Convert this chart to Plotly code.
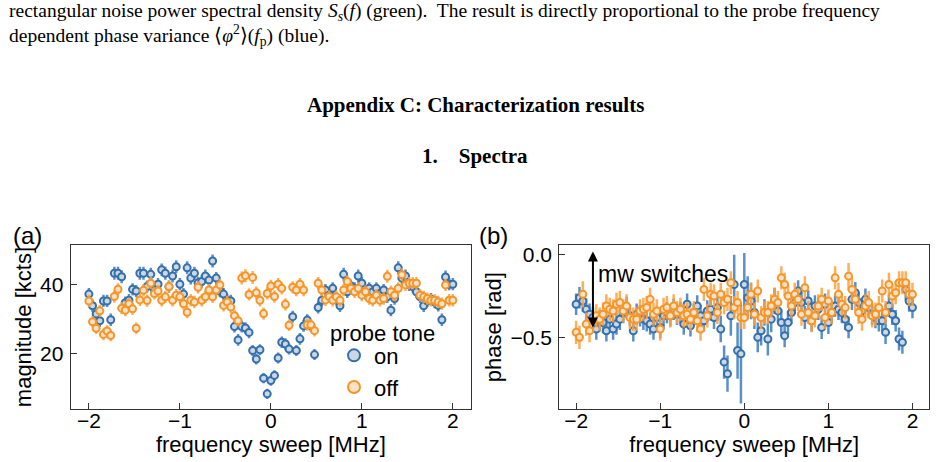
import plotly.graph_objects as go

# ---------------- data ----------------
freq = [round(-2 + 0.04 * i, 2) for i in range(101)]

mag_on = [37.3, 33.9, 31.5, 29.5, 35.3, 35.3, 29.8, 43.4, 43.4, 42.4,
          34.8, 35.5, 38.7, 38.2, 43.4, 43.4, 39.5, 43.1, 38.5, 40.2,
          44.4, 43.4, 39.5, 42.6, 45.3, 40.2, 37.3, 45.0, 42.0, 43.4,
          40.6, 41.0, 42.6, 41.4, 47.0, 42.0, 38.2, 37.3, 35.5, 35.3,
          27.8, 23.9, 27.8, 27.4, 26.1, 20.8, 18.3, 21.0, 12.7, 8.1,
          12.0, 13.5, 18.6, 23.2, 22.7, 21.2, 30.7, 20.8, 24.2, 28.0,
          29.7, 28.0, 19.6, 33.4, 35.5, 38.5, 37.0, 39.0, 36.0, 33.9,
          43.1, 38.0, 39.7, 39.0, 42.6, 40.5, 37.5, 39.0, 38.0, 39.0,
          37.5, 38.5, 36.5, 32.6, 36.0, 45.0, 42.0, 42.6, 40.0, 39.5,
          38.0, 36.5, 33.9, 35.3, 35.8, 35.0, 34.0, 29.8, 42.3, 40.2,
          40.2]
mag_off = [35.3, 29.2, 27.3, 32.4, 25.5, 26.5, 25.2, 36.6, 38.7, 33.2,
           32.6, 34.5, 33.0, 27.3, 35.6, 38.4, 35.4, 40.5, 37.5, 38.2,
           35.5, 36.5, 39.5, 35.5, 37.0, 36.5, 34.5, 32.0, 35.5, 35.0,
           39.3, 35.5, 36.5, 38.5, 36.5, 38.5, 40.0, 34.0, 35.0, 33.5,
           31.0, 29.5, 42.0, 42.7, 37.2, 42.2, 37.7, 35.5, 31.6, 37.5,
           39.7, 36.6, 40.2, 39.0, 34.3, 28.2, 39.3, 38.5, 40.2, 38.5,
           28.3, 28.3, 26.6, 40.5, 38.5, 35.6, 36.6, 35.5, 36.5, 35.5,
           38.5, 41.0, 39.0, 38.0, 39.0, 37.0, 38.0, 36.0, 35.5, 37.0,
           35.5, 36.0, 42.5, 38.0, 37.0, 39.0, 43.0, 40.0, 40.5, 40.5,
           40.5, 37.0, 36.5, 36.0, 35.5, 35.5, 35.0, 34.5, 40.0, 35.5,
           35.5]
mag_on_err = [1.8, 1.8, 1.8, 1.8, 1.8, 1.8, 1.8, 1.9, 1.9, 1.9,
              1.8, 1.8, 1.8, 1.8, 1.9, 1.9, 1.8, 1.9, 1.8, 1.8,
              1.9, 1.9, 1.8, 1.9, 1.9, 1.8, 1.8, 1.9, 1.9, 1.9,
              1.8, 1.8, 1.9, 1.8, 1.9, 1.8, 1.8, 1.8, 1.8, 1.8,
              1.7, 1.7, 1.7, 1.7, 1.7, 1.6, 1.6, 1.6, 1.5, 1.5,
              1.5, 1.5, 1.6, 1.7, 1.7, 1.6, 1.7, 1.6, 1.7, 1.7,
              1.7, 1.7, 1.6, 1.8, 1.8, 1.8, 1.8, 1.8, 1.8, 1.8,
              1.9, 1.8, 1.8, 1.8, 1.9, 1.8, 1.8, 1.8, 1.8, 1.8,
              1.8, 1.8, 1.8, 1.8, 1.8, 1.9, 1.9, 1.9, 1.8, 1.8,
              1.8, 1.8, 1.8, 1.8, 1.8, 1.8, 1.8, 1.8, 1.9, 1.8,
              1.8]
mag_off_err = [1.8, 1.7, 1.7, 1.8, 1.7, 1.7, 1.7, 1.8, 1.8, 1.8,
               1.8, 1.8, 1.8, 1.7, 1.8, 1.8, 1.8, 1.8, 1.8, 1.8,
               1.8, 1.8, 1.8, 1.8, 1.8, 1.8, 1.8, 1.8, 1.8, 1.8,
               1.8, 1.8, 1.8, 1.8, 1.8, 1.8, 1.8, 1.8, 1.8, 1.8,
               1.7, 1.7, 1.9, 1.9, 1.8, 1.9, 1.8, 1.8, 1.8, 1.8,
               1.8, 1.8, 1.8, 1.8, 1.8, 1.7, 1.8, 1.8, 1.8, 1.8,
               1.7, 1.7, 1.7, 1.8, 1.8, 1.8, 1.8, 1.8, 1.8, 1.8,
               1.8, 1.8, 1.8, 1.8, 1.8, 1.8, 1.8, 1.8, 1.8, 1.8,
               1.8, 1.8, 1.9, 1.8, 1.8, 1.8, 1.9, 1.8, 1.8, 1.8,
               1.8, 1.8, 1.8, 1.8, 1.8, 1.8, 1.8, 1.8, 1.8, 1.8,
               1.8]

phase_on = [-0.30, -0.26, -0.28, -0.33, -0.36, -0.38, -0.45, -0.40, -0.41, -0.46,
            -0.39, -0.45, -0.42, -0.39, -0.35, -0.32, -0.37, -0.46, -0.36, -0.37,
            -0.39, -0.40, -0.42, -0.45, -0.38, -0.44, -0.37, -0.35, -0.37, -0.33,
            -0.36, -0.35, -0.42, -0.30, -0.43, -0.36, -0.31, -0.37, -0.40, -0.34,
            -0.33, -0.38, -0.32, -0.45, -0.65, -0.72, -0.37, -0.18, -0.58, -0.60,
            -0.18, -0.26, -0.28, -0.35, -0.50, -0.46, -0.35, -0.51, -0.39, -0.28,
            -0.34, -0.41, -0.49, -0.41, -0.35, -0.29, -0.22, -0.29, -0.38, -0.28,
            -0.40, -0.31, -0.33, -0.44, -0.30, -0.41, -0.35, -0.31, -0.33, -0.35,
            -0.39, -0.44, -0.27, -0.23, -0.29, -0.34, -0.27, -0.32, -0.36, -0.38,
            -0.40, -0.40, -0.47, -0.31, -0.36, -0.40, -0.51, -0.53, -0.21, -0.28,
            -0.32]
phase_off = [-0.47, -0.50, -0.24, -0.42, -0.46, -0.40, -0.37, -0.39, -0.36, -0.31,
             -0.33, -0.34, -0.30, -0.29, -0.34, -0.31, -0.38, -0.39, -0.39, -0.34,
             -0.33, -0.32, -0.27, -0.36, -0.34, -0.45, -0.33, -0.32, -0.37, -0.31,
             -0.35, -0.33, -0.37, -0.36, -0.39, -0.35, -0.40, -0.45, -0.21, -0.37,
             -0.24, -0.25, -0.35, -0.24, -0.29, -0.27, -0.17, -0.32, -0.29, -0.38,
             -0.38, -0.32, -0.24, -0.36, -0.22, -0.38, -0.35, -0.35, -0.31, -0.27,
             -0.29, -0.14, -0.18, -0.25, -0.31, -0.24, -0.27, -0.36, -0.20, -0.35,
             -0.40, -0.37, -0.31, -0.27, -0.38, -0.28, -0.35, -0.14, -0.24, -0.30,
             -0.32, -0.13, -0.21, -0.27, -0.35, -0.39, -0.31, -0.29, -0.37, -0.36,
             -0.32, -0.22, -0.35, -0.18, -0.25, -0.23, -0.17, -0.17, -0.17, -0.24,
             -0.24]
phase_on_err = [0.065, 0.065, 0.065, 0.065, 0.065, 0.065, 0.065, 0.065, 0.065, 0.065,
                0.065, 0.065, 0.065, 0.065, 0.065, 0.065, 0.065, 0.065, 0.065, 0.065,
                0.065, 0.065, 0.065, 0.065, 0.065, 0.065, 0.065, 0.065, 0.065, 0.065,
                0.065, 0.065, 0.065, 0.065, 0.065, 0.065, 0.065, 0.065, 0.065, 0.065,
                0.07, 0.07, 0.08, 0.08, 0.10, 0.11, 0.12, 0.18, 0.17, 0.30,
                0.19, 0.13, 0.11, 0.10, 0.09, 0.09, 0.08, 0.10, 0.08, 0.08,
                0.07, 0.08, 0.07, 0.07, 0.07, 0.07, 0.065, 0.065, 0.07, 0.065,
                0.065, 0.065, 0.065, 0.07, 0.065, 0.07, 0.065, 0.065, 0.065, 0.065,
                0.065, 0.065, 0.065, 0.065, 0.065, 0.065, 0.065, 0.065, 0.065, 0.065,
                0.065, 0.065, 0.07, 0.065, 0.065, 0.065, 0.07, 0.07, 0.065, 0.065,
                0.065]
phase_off_err = [0.07, 0.07, 0.08, 0.07, 0.07, 0.07, 0.07, 0.07, 0.07, 0.07,
                 0.07, 0.07, 0.07, 0.07, 0.07, 0.07, 0.07, 0.07, 0.07, 0.07,
                 0.07, 0.07, 0.07, 0.07, 0.07, 0.07, 0.07, 0.07, 0.07, 0.07,
                 0.07, 0.07, 0.07, 0.07, 0.07, 0.07, 0.07, 0.07, 0.07, 0.07,
                 0.07, 0.07, 0.07, 0.07, 0.07, 0.07, 0.07, 0.07, 0.07, 0.07,
                 0.07, 0.07, 0.07, 0.07, 0.07, 0.07, 0.07, 0.07, 0.07, 0.07,
                 0.07, 0.07, 0.07, 0.07, 0.07, 0.07, 0.07, 0.07, 0.07, 0.07,
                 0.07, 0.07, 0.07, 0.07, 0.07, 0.07, 0.07, 0.07, 0.07, 0.07,
                 0.07, 0.08, 0.07, 0.07, 0.07, 0.07, 0.07, 0.07, 0.07, 0.07,
                 0.07, 0.07, 0.07, 0.07, 0.07, 0.07, 0.07, 0.07, 0.07, 0.07,
                 0.07]

series_names = ["on", "off"]
x_ticks = [-2, -1, 0, 1, 2]
mag_ticks = [20, 40]
phase_ticks = [-0.5, 0.0]

# ---------------- style ----------------
W, H = 948, 462
SANS = "Liberation Sans, Arial, sans-serif"
SERIF = "Liberation Serif, Times New Roman, serif"
BLUE_EDGE = "#3470ae"
BLUE_BAR = "rgba(60,125,190,0.85)"
BLUE_FILL = "#cdd7e2"
ORANGE_EDGE = "#f5962a"
ORANGE_BAR = "rgba(255,160,60,0.85)"
ORANGE_FILL = "#f7e2c6"
AX_COL = "#333333"

fig = go.Figure()


def add_series(y, err, xa, ya, name, edge, bar, fill, show):
    fig.add_trace(go.Scatter(
        x=freq, y=y, mode="markers", name=name, xaxis=xa, yaxis=ya,
        showlegend=show, legendgroup=name,
        marker=dict(symbol="circle", size=7, color=fill,
                    line=dict(color=edge, width=2)),
        error_y=dict(type="data", array=err, visible=True,
                     color=bar, thickness=2.5, width=0),
    ))


add_series(mag_on, mag_on_err, "x", "y", series_names[0], BLUE_EDGE, BLUE_BAR, BLUE_FILL, True)
add_series(mag_off, mag_off_err, "x", "y", series_names[1], ORANGE_EDGE, ORANGE_BAR, ORANGE_FILL, True)
add_series(phase_on, phase_on_err, "x2", "y2", series_names[0], BLUE_EDGE, BLUE_BAR, BLUE_FILL, False)
add_series(phase_off, phase_off_err, "x2", "y2", series_names[1], ORANGE_EDGE, ORANGE_BAR, ORANGE_FILL, False)


def px(x):
    return x / W


def py(y):
    return 1 - y / H


axis_common = dict(
    showgrid=False, zeroline=False, showline=True, mirror=True,
    linecolor=AX_COL, linewidth=1.2, ticks="inside", ticklen=6,
    tickwidth=1.2, tickcolor=AX_COL,
    tickfont=dict(family=SANS, size=21, color="black"),
)
title_font = dict(family=SANS, size=22, color="black")

fig.update_layout(
    width=W, height=H,
    margin=dict(l=0, r=0, t=0, b=0),
    paper_bgcolor="white", plot_bgcolor="white",
    xaxis=dict(domain=[px(70.7), px(471)], range=[-2.2, 2.2],
               tickvals=x_ticks, anchor="y", ticklabelstandoff=-8,
               title=dict(text="frequency sweep [MHz]", standoff=3, font=title_font),
               **axis_common),
    yaxis=dict(domain=[py(409), py(244)], range=[3.6, 51.7],
               tickvals=mag_ticks, anchor="x", ticklabelstandoff=2,
               title=dict(text="magnitude [kcts]", standoff=2, font=title_font),
               **axis_common),
    xaxis2=dict(domain=[px(559.3), px(929.3)], range=[-2.2, 2.2],
                tickvals=x_ticks, anchor="y2", ticklabelstandoff=-8,
                title=dict(text="frequency sweep [MHz]", standoff=3, font=title_font),
                **axis_common),
    yaxis2=dict(domain=[py(409), py(244)], range=[-0.935, 0.059],
                tickvals=phase_ticks, tickformat=".1f", anchor="x2",
                ticklabelstandoff=2,
                title=dict(text="phase [rad]", standoff=2, font=title_font),
                **axis_common),
    legend=dict(x=px(334), y=py(334), xanchor="left", yanchor="top",
                bgcolor="rgba(0,0,0,0)", borderwidth=0,
                font=dict(family=SANS, size=22, color="black"),
                tracegroupgap=0, itemsizing="constant"),
    showlegend=True,
)

annotations = [
    dict(text="rectangular noise power spectral density <i>S<sub>s</sub></i>(<i>f</i>) (green).  The result is directly proportional to the probe frequency",
         x=px(7), y=py(10), xanchor="left", yanchor="middle",
         font=dict(family=SERIF, size=19.5, color="black")),
    dict(text="dependent phase variance \u27e8<i>\u03c6</i><sup>2</sup>\u27e9(<i>f</i><sub>p</sub>) (blue).",
         x=px(7), y=py(34), xanchor="left", yanchor="middle",
         font=dict(family=SERIF, size=19.5, color="black")),
    dict(text="<b>Appendix C: Characterization results</b>",
         x=px(475), y=py(103), xanchor="center", yanchor="middle",
         font=dict(family=SERIF, size=21, color="black")),
    dict(text="<b>1.\u00a0\u00a0\u00a0\u00a0Spectra</b>",
         x=px(475), y=py(155), xanchor="center", yanchor="middle",
         font=dict(family=SERIF, size=21, color="black")),
    dict(text="(a)", x=px(27), y=py(235), xanchor="center", yanchor="middle",
         font=dict(family=SANS, size=24, color="black")),
    dict(text="(b)", x=px(494), y=py(235), xanchor="center", yanchor="middle",
         font=dict(family=SANS, size=24, color="black")),
    dict(text="probe tone", x=px(382), y=py(333), xanchor="center", yanchor="middle",
         font=dict(family=SANS, size=22, color="black")),
    dict(text="mw switches", x=px(596), y=py(273), xanchor="left", yanchor="middle",
         font=dict(family=SANS, size=23, color="black")),
]
for a in annotations:
    a.update(xref="paper", yref="paper", showarrow=False)

# double arrow in panel (b)
annotations.append(dict(
    x=-1.8, y=0.02, ax=-1.8, ay=-0.45, xref="x2", yref="y2",
    axref="x2", ayref="y2", showarrow=True, arrowhead=2, startarrowhead=2,
    arrowside="end+start", arrowsize=1, startarrowsize=1, arrowwidth=2,
    arrowcolor="black", text="",
))

fig.update_layout(annotations=annotations)

fig.write_html("out.html")
